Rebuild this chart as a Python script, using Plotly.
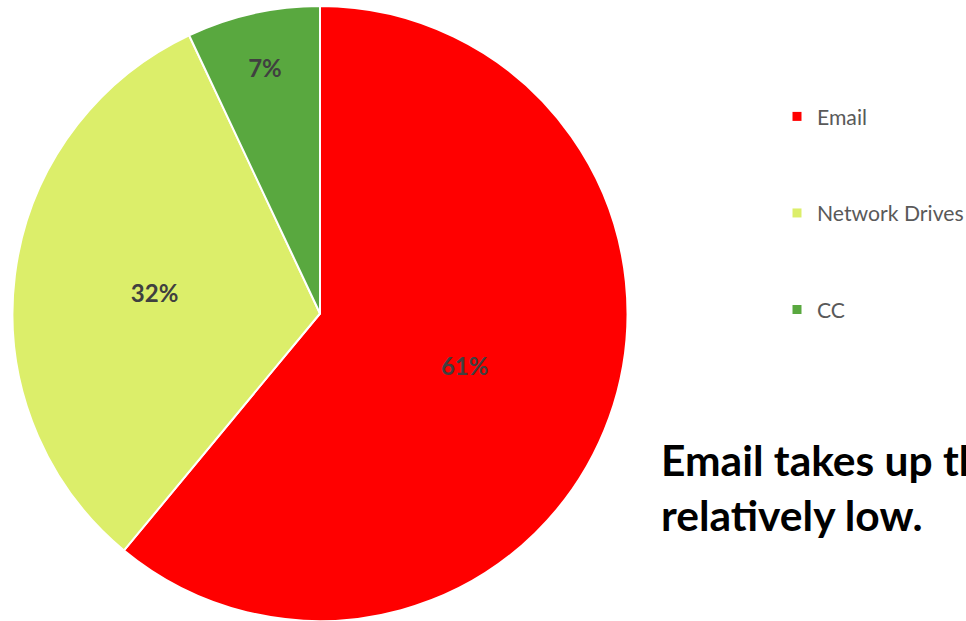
import plotly.graph_objects as go

categories = ["Email", "Network Drives", "CC"]
values = [61, 32, 7]
colors = ["#FF0000", "#DCEE6A", "#59A83F"]
note_lines = ["Email takes up the largest share, while CC is", "relatively low."]

fig = go.Figure()
fig.add_trace(go.Pie(
    labels=categories,
    values=values,
    sort=False,
    direction="clockwise",
    rotation=0,
    marker=dict(colors=colors, line=dict(color="white", width=2)),
    textinfo="percent",
    texttemplate="%{percent:.0%}",
    textposition="inside",
    insidetextorientation="horizontal",
    textfont=dict(family="Lato", size=24, color="#404040", weight="bold"),
    showlegend=False,
    domain=dict(x=[0, 640 / 966], y=[0, 1]),
    hoverinfo="label+percent",
))

for i, (name, col) in enumerate(zip(categories, colors)):
    fig.add_trace(go.Scatter(
        x=[None], y=[None], mode="markers", name=name,
        marker=dict(symbol="square", size=9, color=col),
        legendgroup=f"g{i}", showlegend=True, hoverinfo="skip",
    ))

fig.update_layout(
    width=966, height=621,
    margin=dict(l=0, r=0, t=6, b=0, autoexpand=False),
    paper_bgcolor="white", plot_bgcolor="white",
    xaxis=dict(visible=False, domain=[0.99, 1]),
    yaxis=dict(visible=False, domain=[0.99, 1]),
    legend=dict(
        x=777 / 966, y=1 - 91 / 621, xanchor="left", yanchor="top",
        font=dict(family="Lato", size=21.2, color="#595959"),
        tracegroupgap=66, bgcolor="rgba(0,0,0,0)",
    ),
    annotations=[dict(
        x=659 / 966, y=1 - 486 / 621, xref="paper", yref="paper",
        xanchor="left", yanchor="middle", align="left", showarrow=False,
        text="<br>".join(note_lines),
        font=dict(family="Lato", size=42.5, color="#000000", weight="bold"),
    )],
)

fig.write_html("out.html")
